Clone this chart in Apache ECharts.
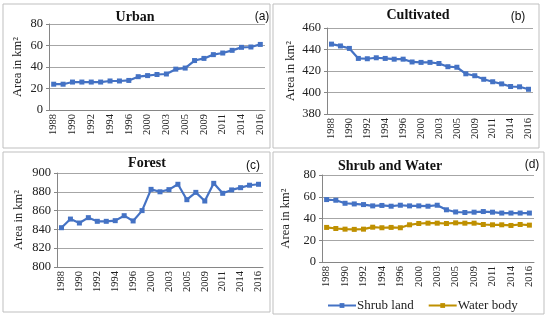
<!DOCTYPE html>
<html><head><meta charset="utf-8">
<script src="https://cdn.jsdelivr.net/npm/echarts@6/dist/echarts.min.js"></script>
<style>html,body{margin:0;padding:0;background:#fff}#c{width:550px;height:322px}</style>
</head><body><div id="c"></div>
<script>
const years = ['1988','1989','1990','1991','1992','1993','1994','1995','1996','1998','2000','2002','2003','2004','2005','2007','2009','2010','2011','2013','2014','2015','2016'];
const urban = [24,24,26,26,26,26,27,27,27.5,31,32,33,33.5,38,39,46,48,51.5,53,55.5,58.3,58.6,61];
const cultivated = [445,443.3,441,431.7,431.4,432.3,431.7,431,431,428.4,428,428,427,424,423.5,417.4,415.6,412.3,410,408,405.6,405.3,403];
const forest = [841.8,851,846.8,852.5,848.6,848.6,849.3,854.6,849,860,882.6,880,882.3,888,871.6,879.4,870.2,889,878.4,882,884.4,887,888];
const shrub = [57.4,56.8,54,53.4,52.8,51.6,52,51.3,52.2,51.6,51.6,51.3,52.2,48,46,45.5,45.8,46.4,45.8,45,45,45,45];
const water = [31.8,30.8,30.2,30,30.2,32,31.5,31.8,31.5,34.2,35.4,35.7,35.7,35.4,36,35.7,35.7,34.5,34.2,34.2,33.6,34.5,33.9];
const titles = ['Urban','Cultivated','Forest','Shrub and Water'];
const tags = ['(a)','(b)','(c)','(d)'];
const yRanges = [[0,80],[380,460],[800,900],[0,80]];
const seriesNames = ['Shrub land','Water body'];

const BLUE = '#4472C4', GOLD = '#BF9000';
const serif = 'Liberation Serif';
const grids = [
  {left:49, top:24, width:216, height:86},
  {left:327, top:28, width:206, height:86},
  {left:57, top:173, width:206, height:94},
  {left:322, top:175, width:212, height:87}
];
const xAxis = grids.map((g,i)=>({
  type:'category', gridIndex:i, data:years, boundaryGap:true,
  axisLine:{lineStyle:{color:'#868686'}},
  axisTick:{interval:0, length:3, lineStyle:{color:'#868686'}},
  axisLabel:{interval:1, rotate:90, fontFamily:serif, fontSize:10.5, color:'#222', margin:4}
}));
const yAxis = grids.map((g,i)=>({
  type:'value', gridIndex:i, min:yRanges[i][0], max:yRanges[i][1], interval:20,
  name:'Area in km\u00b2', nameLocation:'middle', nameRotate:90,
  nameGap: i===2 ? 32 : (i===0 ? 25 : 30),
  nameTextStyle:{fontFamily:serif, fontSize:12.5, color:'#222'},
  axisLine:{show:true, lineStyle:{color:'#868686'}},
  axisTick:{show:true, length:3, lineStyle:{color:'#868686'}},
  axisLabel:{fontFamily:serif, fontSize:12.5, color:'#222', margin:6},
  splitLine:{lineStyle:{color:'#A6A6A6'}}
}));
function line(name, data, i, color){
  return {name, type:'line', xAxisIndex:i, yAxisIndex:i, data,
    symbol:'rect', symbolSize:5, showSymbol:true,
    lineStyle:{color, width:2.2}, itemStyle:{color}};
}
const series = [
  line('Urban', urban, 0, BLUE),
  line('Cultivated', cultivated, 1, BLUE),
  line('Forest', forest, 2, BLUE),
  line(seriesNames[0], shrub, 3, BLUE),
  line(seriesNames[1], water, 3, GOLD)
];
const boxes = [[3,4,267,144],[273,4,266,144],[3,152,267,160],[273,152,271,162]];
const titlePos = [[135,10],[418,8],[147,156],[390,159]];
const tagPos = [[262,11],[518,11],[253,160],[532,159]];
const graphic = [];
boxes.forEach(b=>graphic.push({type:'rect', shape:{x:b[0],y:b[1],width:b[2],height:b[3]}, style:{fill:null, stroke:'#BFBFBF', lineWidth:1}, silent:true}));
titles.forEach((t,i)=>graphic.push({type:'text', x:titlePos[i][0], y:titlePos[i][1], style:{text:t, fontFamily:serif, fontWeight:'bold', fontSize:14, fill:'#111', textAlign:'center'}}));
tags.forEach((t,i)=>graphic.push({type:'text', x:tagPos[i][0], y:tagPos[i][1], style:{text:t, fontFamily:'Liberation Sans', fontSize:12, fill:'#111', textAlign:'center'}}));

const chart = echarts.init(document.getElementById('c'));
chart.setOption({
  animation:false,
  grid:grids, xAxis, yAxis, series, graphic,
  legend:{data:seriesNames, left:322, top:294, itemWidth:28, itemHeight:6, itemGap:14,
    textStyle:{fontFamily:serif, fontSize:13, color:'#222', padding:[0,0,0,-4]}}
});
</script></body></html>
